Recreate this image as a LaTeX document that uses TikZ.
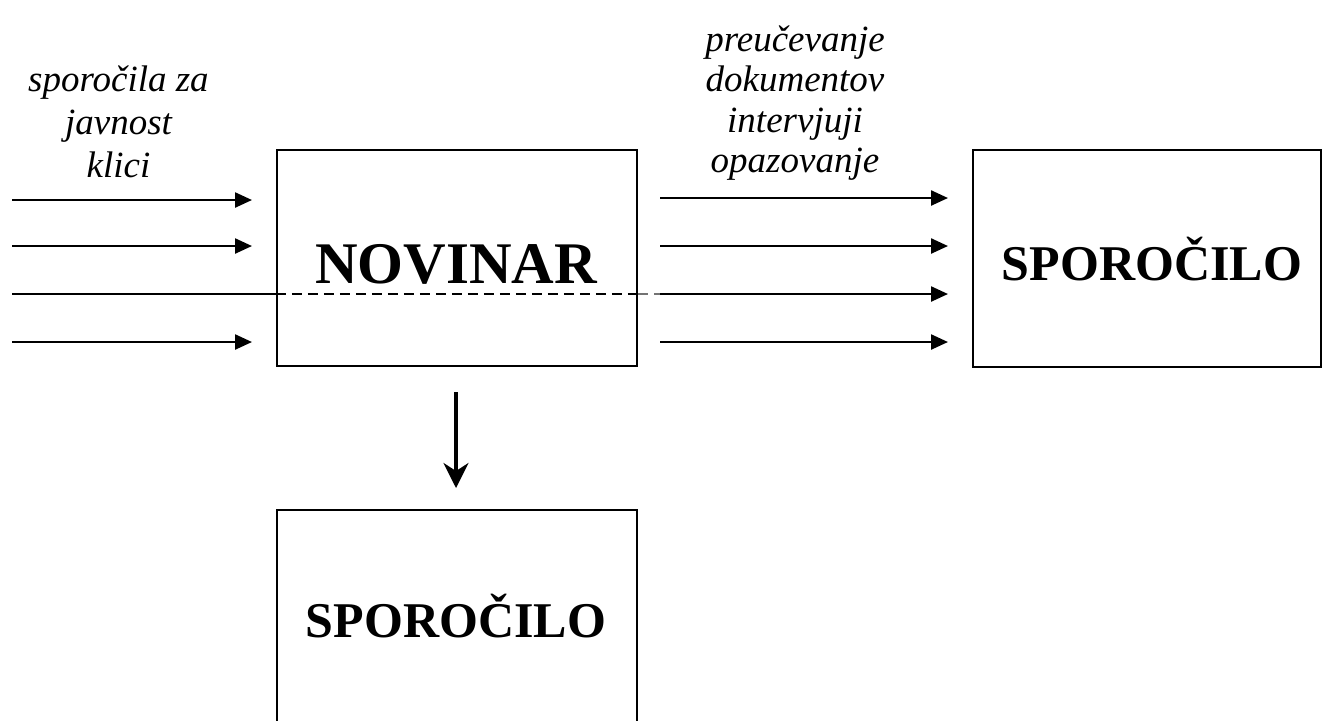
\documentclass[tikz,border=0pt]{standalone}
\usepackage{fontspec}
\setmainfont{Liberation Serif}
\usetikzlibrary{arrows.meta}
\begin{document}
\begin{tikzpicture}[x=0.5pt,y=-0.5pt,
  box/.style={draw, line width=1.1pt, inner sep=0pt},
  flow/.style={line width=1.2pt, -{Triangle[length=8.5pt,width=7.5pt]}},
  plain/.style={line width=1.2pt},
  dashline/.style={line width=1pt, dash pattern=on 5pt off 3pt},
  down/.style={line width=1.8pt, -{Stealth[length=12.5pt,width=12.5pt,inset=4pt]}},
  lbl/.style={font=\fontsize{18.5}{21.5}\selectfont\itshape, align=center, inner sep=0pt},
  bigtitle/.style={font=\fontsize{29.5}{34}\selectfont\bfseries, inner sep=0pt, anchor=base},
  midtitle/.style={font=\fontsize{25}{30}\selectfont\bfseries, inner sep=0pt, anchor=base}]
\useasboundingbox (0,0) rectangle (1322,720);
\clip (0,0) rectangle (1322,720);

% boxes
\node[box, minimum width=180pt, minimum height=108pt] (novinar) at (457,258) {};
\node[box, minimum width=174pt, minimum height=108.5pt] (msgright) at (1147,258.5) {};
\node[box, minimum width=180pt, minimum height=108pt] (msgdown) at (457,618) {};

% box titles
\node[bigtitle] (novinartxt) at (456,283) {NOVINAR};
\node[midtitle] (msgrighttxt) at (1152,280) {SPORO\v{C}ILO};
\node[midtitle] (msgdowntxt) at (456,637) {SPORO\v{C}ILO};

% input labels
\node[lbl, anchor=north] (inlbl) at (118.5,65.5) {sporo\v{c}ila za\\javnost\\klici};
\node[lbl, anchor=north, font=\fontsize{18.5}{20.3}\selectfont\itshape] (outlbl) at (795,25) {preu\v{c}evanje\\dokumentov\\intervjuji\\opazovanje};

% input arrows
\coordinate (a1s) at (12,200);  \coordinate (a1e) at (252,200);
\coordinate (a2s) at (12,246);  \coordinate (a2e) at (252,246);
\coordinate (a3s) at (12,294);
\coordinate (a4s) at (12,342);  \coordinate (a4e) at (252,342);
\draw[flow] (a1s) -- (a1e);
\draw[flow] (a2s) -- (a2e);
\draw[flow] (a4s) -- (a4e);

% line running through the journalist box
\draw[plain] (a3s) -- (novinar.west |- a3s) coordinate (a3in);
\coordinate (a3out) at (novinar.east |- a3s);
\coordinate (a3end) at (703,294);
\draw[dashline] (a3in) -- (a3out);
\draw[dashline, black!55] (a3out) -- (a3end);

% output arrows
\coordinate (b1s) at (660,198);  \coordinate (b1e) at (948,198);
\coordinate (b2s) at (660,246);  \coordinate (b2e) at (948,246);
\coordinate (b3s) at (660,294);  \coordinate (b3e) at (948,294);
\coordinate (b4s) at (660,342);  \coordinate (b4e) at (948,342);
\draw[flow] (b1s) -- (b1e);
\draw[flow] (b2s) -- (b2e);
\draw[flow] (b3s) -- (b3e);
\draw[flow] (b4s) -- (b4e);

% downward arrow
\coordinate (d1) at (456,392);
\coordinate (d2) at (456,488);
\draw[down] (d1) -- (d2);
\end{tikzpicture}
\end{document}
